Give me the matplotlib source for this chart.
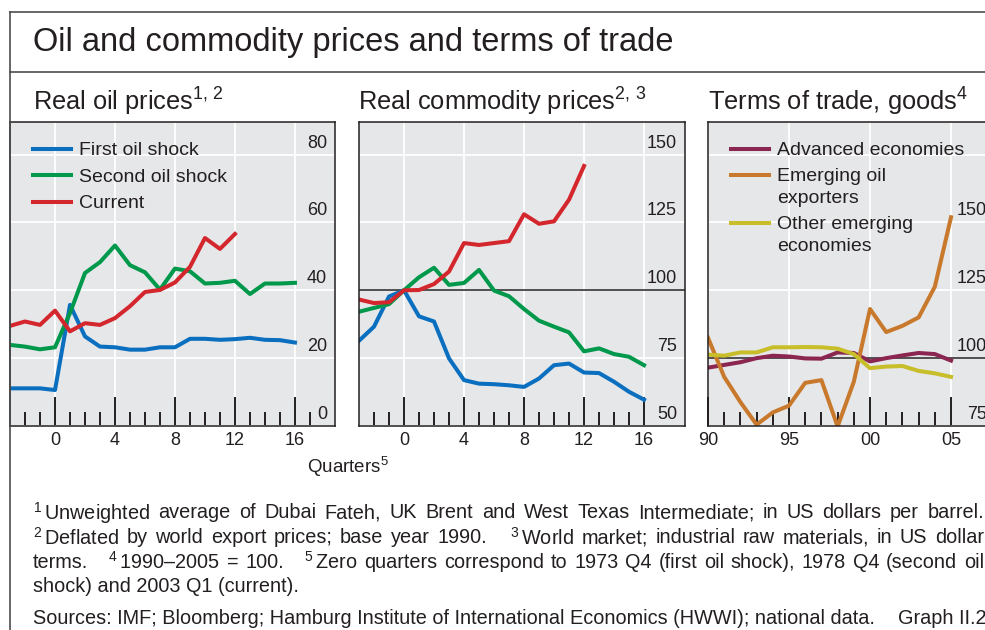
import matplotlib
matplotlib.use('Agg')
import matplotlib.pyplot as plt
from matplotlib.lines import Line2D
from matplotlib.legend_handler import HandlerLine2D
import numpy as np

plt.rcParams['font.family'] = ['Liberation Sans', 'DejaVu Sans']
plt.rcParams['mathtext.fontset'] = 'custom'
plt.rcParams['mathtext.rm'] = 'Liberation Sans'
plt.rcParams['mathtext.it'] = 'Liberation Sans'

# ---- data ----
quarters = np.arange(-3, 17)
oil_first = [11.1, 11.1, 11.1, 10.6, 35.7, 26.4, 23.4, 23.2, 22.5, 22.5,
             23.2, 23.2, 25.7, 25.7, 25.4, 25.6, 26.0, 25.4, 25.3, 24.6]
oil_second = [23.9, 23.4, 22.6, 23.2, 33.3, 45.1, 48.3, 53.2, 47.4, 45.3,
              40.2, 46.4, 45.6, 42.0, 42.2, 42.8, 38.9, 42.0, 42.0, 42.2]
oil_current = [29.5, 30.8, 29.8, 34.0, 27.9, 30.3, 29.8, 31.8, 35.3, 39.5,
               40.1, 42.3, 46.9, 55.4, 52.2, 56.6]

comm_first = [81.4, 86.6, 97.7, 100.0, 90.4, 88.5, 74.9, 66.9, 65.6, 65.4,
              65.0, 64.4, 67.5, 72.4, 73.0, 69.7, 69.5, 66.3, 62.6, 59.7]
comm_second = [92.1, 93.5, 94.9, 100.0, 104.8, 108.3, 102.0, 102.7, 107.5, 99.9,
               97.8, 93.1, 88.8, 86.6, 84.5, 77.5, 78.6, 76.5, 75.5, 72.4]
comm_current = [96.6, 95.3, 95.6, 100.0, 100.1, 102.3, 106.9, 117.4, 116.7, 117.4,
                118.1, 128.0, 124.5, 125.4, 133.4, 145.8]

years = np.arange(1990, 2006)
tot_advanced = [96.5, 97.5, 98.5, 100.0, 100.9, 100.6, 99.9, 99.8, 102.1, 101.9,
                98.8, 100.0, 101.0, 101.9, 101.5, 99.1]
tot_oil_exp = [107.5, 93.1, 83.8, 75.5, 80.0, 82.5, 90.9, 91.9, 74.8, 91.3,
               118.1, 109.6, 111.9, 115.0, 126.3, 151.9]
tot_other = [101.3, 100.9, 102.1, 102.1, 104.0, 104.0, 104.1, 104.0, 103.5, 101.5,
             96.3, 96.9, 97.1, 95.3, 94.4, 93.1]

oil_ticks = [0, 20, 40, 60, 80]
comm_ticks = [50, 75, 100, 125, 150]
tot_ticks = [75, 100, 125, 150, 175]
tot_tick_labels = ['75', '100', '125', '150', '']
year_majors = [1990, 1995, 2000, 2005]
year_labels = ['90', '95', '00', '05']

# ---- style ----
TXT = '#231f20'
BG = '#e6e7e9'
BLUE, GREEN, RED = '#0b6fc0', '#00984a', '#d4262d'
MAROON, ORANGE, OLIVE = '#8b2650', '#c8792c', '#c8be2a'
LW = 2.9
LEG_FS = 14
LEG_LS = 1.36

W, H = 985, 630
fig = plt.figure(figsize=(W / 100, H / 100), dpi=100)


def px_axes(left, top, right, bottom):
    return fig.add_axes([left / W, 1 - bottom / H, (right - left) / W, (bottom - top) / H])


class TopLine(HandlerLine2D):
    # put the legend line next to the first line of a wrapped label
    def create_artists(self, legend, orig_handle, xdescent, ydescent, width, height, fontsize, trans):
        arts = super().create_artists(legend, orig_handle, xdescent, ydescent,
                                      width, height, fontsize, trans)
        n = orig_handle.get_label().count('\n')
        shift = n * 0.9 * fontsize * LEG_LS / 2
        for a in arts:
            a.set_ydata(np.asarray(a.get_ydata()) + shift)
        return arts


def style(ax, yticks, ylabels, label_shift, majors, minors, xlabels):
    ax.set_facecolor(BG)
    ax.set_axisbelow(True)
    for s in ax.spines.values():
        s.set_color(TXT)
        s.set_linewidth(1.1)
    ax.set_yticks(yticks)
    ax.tick_params(axis='y', length=0, labelleft=False, labelright=False)
    ax.grid(True, axis='y', color='white', lw=1.3)
    for v, lab in zip(yticks, ylabels):
        ax.annotate(lab, xy=(1, v), xycoords=('axes fraction', 'data'),
                    xytext=(label_shift, 7), textcoords='offset pixels',
                    ha='right', va='baseline', fontsize=13, color=TXT)
    ax.set_xticks(majors)
    ax.set_xticklabels(xlabels)
    ax.set_xticks(minors, minor=True)
    ax.tick_params(axis='x', which='major', direction='in', length=21, width=1.4,
                   color=TXT, labelsize=13, labelcolor=TXT, pad=4)
    ax.tick_params(axis='x', which='minor', direction='in', length=10, width=1.4, color=TXT)
    ax.grid(True, axis='x', which='major', color='white', lw=1.3)


# Panel 1: real oil prices
ax1 = px_axes(10, 122, 335, 426)
ax1.plot(quarters, oil_first, color=BLUE, lw=LW, label='First oil shock')
ax1.plot(quarters, oil_second, color=GREEN, lw=LW, label='Second oil shock')
ax1.plot(quarters[:len(oil_current)], oil_current, color=RED, lw=LW, label='Current')
ax1.set_xlim(-3, 18.67)
ax1.set_ylim(0, 89.6)
style(ax1, oil_ticks, [str(t) for t in oil_ticks], -8,
      [0, 4, 8, 12, 16], [q for q in range(-2, 18) if q % 4], ['0', '4', '8', '12', '16'])

# Panel 2: real commodity prices
ax2 = px_axes(359, 122, 685, 426)
ax2.plot(quarters, comm_first, color=BLUE, lw=LW)
ax2.plot(quarters, comm_second, color=GREEN, lw=LW)
ax2.plot(quarters[:len(comm_current)], comm_current, color=RED, lw=LW)
ax2.axhline(100, color=TXT, lw=1.1, zorder=1.5)
ax2.set_xlim(-3, 18.73)
ax2.set_ylim(50, 162)
style(ax2, comm_ticks, [str(t) for t in comm_ticks], -8,
      [0, 4, 8, 12, 16], [q for q in range(-2, 16) if q % 4], ['0', '4', '8', '12', '16'])

# Panel 3: terms of trade
ax3 = px_axes(708, 122, 1033, 426)
ax3.plot(years, tot_advanced, color=MAROON, lw=LW, label='Advanced economies')
ax3.plot(years, tot_oil_exp, color=ORANGE, lw=LW, label='Emerging oil\nexporters')
ax3.plot(years, tot_other, color=OLIVE, lw=LW, label='Other emerging\neconomies')
ax3.axhline(100, color=TXT, lw=1.1, zorder=1.5)
ax3.set_xlim(1990, 2010.06)
ax3.set_ylim(75, 187)
style(ax3, tot_ticks, tot_tick_labels, -46,
      year_majors, [y for y in range(1991, 2005) if y % 5], year_labels)

for ax in (ax1, ax3):
    leg = ax.legend(loc='upper left', bbox_to_anchor=(0.07, 0.935), frameon=False,
                    fontsize=LEG_FS, handlelength=1.95, handletextpad=0.42, labelspacing=0.46,
                    borderpad=0, borderaxespad=0, labelcolor=TXT,
                    handler_map={Line2D: TopLine()})
    for t in leg.get_texts():
        t.set_linespacing(LEG_LS)

# ---- frame and texts ----
frame = dict(color='#4d4d4f', lw=1.2, transform=fig.transFigure)
fig.add_artist(Line2D([10 / W, 1], [1 - 12 / H] * 2, **frame))
fig.add_artist(Line2D([10 / W, 1], [1 - 72 / H] * 2, **frame))
fig.add_artist(Line2D([10 / W] * 2, [0, 1 - 12 / H], **frame))

fig.text(33 / W, 1 - 43 / H, 'Oil and commodity prices and terms of trade',
         fontsize=23.5, color=TXT, va='center')
fig.text(33 / W, 1 - 102 / H, r'Real oil prices$^{1,\,2}$', fontsize=18.3, color=TXT, va='center')
fig.text(358 / W, 1 - 102 / H, r'Real commodity prices$^{2,\,3}$', fontsize=18.3, color=TXT, va='center')
fig.text(708 / W, 1 - 102 / H, r'Terms of trade, goods$^{4}$', fontsize=18.3, color=TXT, va='center')
fig.text(307 / W, 1 - 467 / H, r'Quarters$^{5}$', fontsize=13.5, color=TXT, va='center')

NOTE_FS = 14.3
renderer = fig.canvas.get_renderer()


def justified(line, y, x0, x1):
    # spread the words of a footnote line over the full text width
    words, extra, pending = [], [], 0
    for p in line.split(' '):
        if p == '':
            pending += 1
        else:
            words.append(p)
            extra.append(pending)
            pending = 0
    arts = [fig.text(0, 1 - y / H, w, fontsize=NOTE_FS, color=TXT, va='center') for w in words]
    widths = [a.get_window_extent(renderer).width for a in arts]
    gap = (x1 - x0 - sum(widths)) / (len(words) - 1 + sum(extra[1:]))
    x = x0
    for i, (a, wd) in enumerate(zip(arts, widths)):
        if i:
            x += gap * (1 + extra[i])
        a.set_x(x / W)
        x += wd


notes = [
    r'$^{1}\,$Unweighted average of Dubai Fateh, UK Brent and West Texas Intermediate; in US dollars per barrel.',
    r'$^{2}\,$Deflated by world export prices; base year 1990.   $^{3}\,$World market; industrial raw materials, in US dollar',
    r'terms.   $^{4}\,$1990–2005 = 100.   $^{5}\,$Zero quarters correspond to 1973 Q4 (first oil shock), 1978 Q4 (second oil',
]
for i, line in enumerate(notes):
    justified(line, 513 + 24.6 * i, 33, 984)
fig.text(33 / W, 1 - 587 / H, 'shock) and 2003 Q1 (current).', fontsize=NOTE_FS, color=TXT, va='center')
fig.text(33 / W, 1 - 619 / H,
         'Sources: IMF; Bloomberg; Hamburg Institute of International Economics (HWWI); national data.',
         fontsize=NOTE_FS, color=TXT, va='center')
fig.text(898 / W, 1 - 619 / H, 'Graph II.2', fontsize=NOTE_FS, color=TXT, va='center')

fig.savefig('out.png', dpi=100)
